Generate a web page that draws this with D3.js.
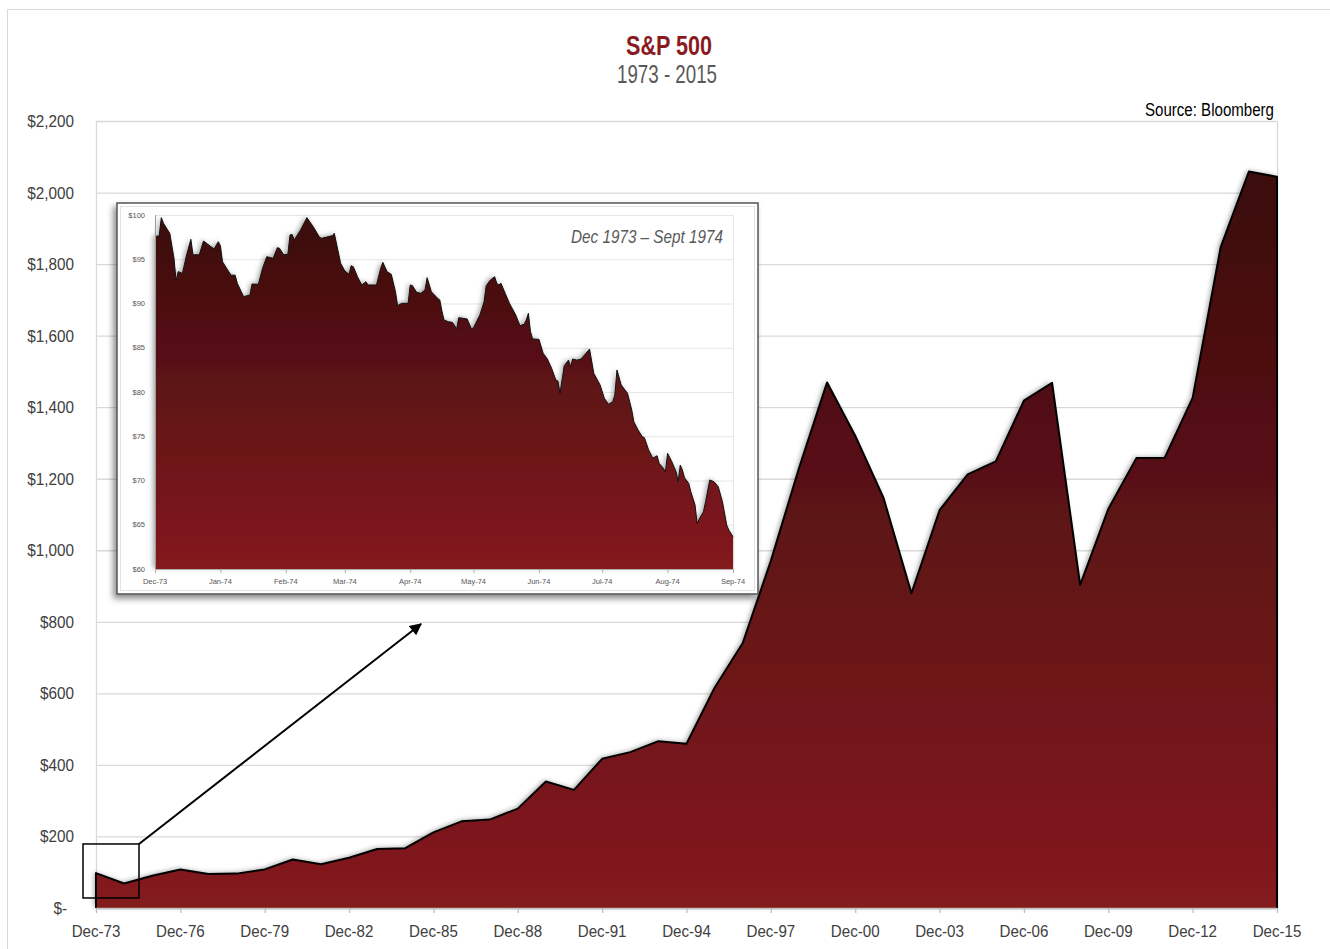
<!DOCTYPE html>
<html>
<head>
<meta charset="utf-8">
<script src="https://cdn.jsdelivr.net/npm/d3@7/dist/d3.min.js"></script>
<style>
  html, body { margin: 0; padding: 0; background: #fff; }
  svg { display: block; font-family: "Liberation Sans", Arial, sans-serif; }
</style>
</head>
<body>
<svg id="chart" width="1330" height="949"></svg>
<script>
// ---------------- DATA ----------------
const years = [1973,1974,1975,1976,1977,1978,1979,1980,1981,1982,1983,1984,1985,1986,1987,1988,1989,1990,1991,1992,1993,1994,1995,1996,1997,1998,1999,2000,2001,2002,2003,2004,2005,2006,2007,2008,2009,2010,2011,2012,2013,2014,2015];
const closes = [97.55,68.56,90.19,107.46,95.10,96.11,107.94,135.76,122.55,140.64,164.93,167.24,211.28,242.17,247.08,277.72,353.40,330.22,417.09,435.71,466.45,459.27,615.93,740.74,970.43,1229.23,1469.25,1320.28,1148.08,879.82,1111.92,1211.92,1248.29,1418.30,1468.36,903.25,1115.10,1257.64,1257.60,1426.19,1848.36,2058.90,2043.94];
const xTickYears = [1973,1976,1979,1982,1985,1988,1991,1994,1997,2000,2003,2006,2009,2012,2015];
const xTickLabels = ["Dec-73","Dec-76","Dec-79","Dec-82","Dec-85","Dec-88","Dec-91","Dec-94","Dec-97","Dec-00","Dec-03","Dec-06","Dec-09","Dec-12","Dec-15"];
const yTickValues = [0,200,400,600,800,1000,1200,1400,1600,1800,2000,2200];
const yTickLabels = ["$-","$200","$400","$600","$800","$1,000","$1,200","$1,400","$1,600","$1,800","$2,000","$2,200"];

const insetDates = ["1973-12-01","1973-12-03","1973-12-04","1973-12-05","1973-12-07","1973-12-08","1973-12-10","1973-12-11","1973-12-12","1973-12-14","1973-12-16","1973-12-18","1973-12-19","1973-12-22","1973-12-24","1973-12-26","1973-12-29","1973-12-31",
"1974-01-01","1974-01-02","1974-01-06","1974-01-08","1974-01-09","1974-01-12","1974-01-15","1974-01-16","1974-01-19","1974-01-21","1974-01-23","1974-01-26","1974-01-28","1974-01-29","1974-01-31",
"1974-02-02","1974-02-03","1974-02-04","1974-02-05","1974-02-08","1974-02-11","1974-02-14","1974-02-17","1974-02-18","1974-02-20","1974-02-23","1974-02-24","1974-02-27",
"1974-03-01","1974-03-03","1974-03-04","1974-03-05","1974-03-07","1974-03-09","1974-03-11","1974-03-12","1974-03-16","1974-03-18","1974-03-19","1974-03-21","1974-03-23","1974-03-25","1974-03-26","1974-03-28","1974-03-31",
"1974-04-01","1974-04-02","1974-04-04","1974-04-06","1974-04-08","1974-04-09","1974-04-11","1974-04-14","1974-04-15","1974-04-16","1974-04-17","1974-04-19","1974-04-21","1974-04-23","1974-04-24","1974-04-28","1974-04-30",
"1974-05-01","1974-05-04","1974-05-06","1974-05-07","1974-05-09","1974-05-11","1974-05-12","1974-05-13","1974-05-14","1974-05-16","1974-05-18","1974-05-21","1974-05-23","1974-05-25","1974-05-26","1974-05-27","1974-05-28","1974-05-29",
"1974-06-01","1974-06-03","1974-06-05","1974-06-07","1974-06-09","1974-06-10","1974-06-11","1974-06-13","1974-06-15","1974-06-16","1974-06-17","1974-06-19","1974-06-21","1974-06-25","1974-06-27","1974-06-30",
"1974-07-02","1974-07-04","1974-07-06","1974-07-07","1974-07-08","1974-07-10","1974-07-13","1974-07-15","1974-07-16","1974-07-18","1974-07-20","1974-07-21","1974-07-23","1974-07-25","1974-07-27","1974-07-28","1974-07-30","1974-07-31",
"1974-08-01","1974-08-03","1974-08-05","1974-08-06","1974-08-07","1974-08-08","1974-08-09","1974-08-11","1974-08-12","1974-08-14","1974-08-15","1974-08-16","1974-08-18","1974-08-19","1974-08-21","1974-08-23","1974-08-25","1974-08-27","1974-08-29","1974-08-30","1974-09-01"];
const insetValues = [97.55,97.66,99.7,99.06,98.3,97.93,95.1,92.54,93.6,93.4,95.5,97.25,95.5,95.5,97.06,96.7,96.16,96.98,
96.53,94.72,93.2,93.2,92.28,90.77,90.96,92.2,92.17,93.98,95.29,95.1,96.3,96.24,95.5,
95.56,97.74,97.8,97.18,98.3,99.7,98.68,97.48,97.37,97.48,97.66,97.93,94.54,
93.67,93.3,94.27,94.16,93.03,92.09,92.46,92.09,92.09,93.98,94.65,93.6,93.3,91.33,89.75,90.02,90.02,
92.09,92.02,91.27,91.15,91.53,92.92,91.33,90.58,90.4,89.15,88.14,87.94,87.87,87.12,88.4,88.25,87.12,
87.27,88.7,90.2,92.01,92.66,93.03,92.28,92.09,92.28,91.15,90.02,88.7,87.5,87.65,88.14,88.89,86.82,85.99,
85.95,84.37,83.73,82.68,81.36,81.24,79.85,82.97,83.6,82.86,83.73,83.6,83.73,84.86,82.11,80.79,
79.29,78.61,78.9,79.66,82.49,80.79,79.85,77.97,76.64,75.7,74.95,74.84,73.45,72.51,72.8,71.94,71.38,70.99,
73.07,72.13,70.99,69.86,71.75,71.19,70.32,69.68,68.74,67.23,65.16,65.65,66.47,67.6,70.06,69.86,69.3,67.6,64.97,64.41,63.65];
const insetMonthLabels = ["Dec-73","Jan-74","Feb-74","Mar-74","Apr-74","May-74","Jun-74","Jul-74","Aug-74","Sep-74"];
const insetYTicks = [60,65,70,75,80,85,90,95,100];
const insetYLabels = ["$60","$65","$70","$75","$80","$85","$90","$95","$100"];

// ---------------- DRAW ----------------
const svg = d3.select("#chart");
const defs = svg.append("defs");

function grad(id) {
  const g = defs.append("linearGradient").attr("id", id).attr("x1", 0).attr("y1", 0).attr("x2", 0).attr("y2", 1);
  g.append("stop").attr("offset", "0%").attr("stop-color", "#3a0b0c");
  g.append("stop").attr("offset", "100%").attr("stop-color", "#841a1f");
}
grad("mainGrad");
grad("insetGrad");

const glow = defs.append("filter").attr("id", "glow").attr("x", "-10%").attr("y", "-10%").attr("width", "120%").attr("height", "120%");
glow.append("feDropShadow").attr("dx", -2).attr("dy", -1).attr("stdDeviation", 2.5).attr("flood-color", "#000").attr("flood-opacity", 0.35);

const boxShadow = defs.append("filter").attr("id", "boxShadow").attr("x", "-5%").attr("y", "-5%").attr("width", "110%").attr("height", "115%");
boxShadow.append("feDropShadow").attr("dx", -3).attr("dy", 4).attr("stdDeviation", 3).attr("flood-color", "#000").attr("flood-opacity", 0.45);

const marker = defs.append("marker").attr("id", "arrow").attr("viewBox", "0 0 10 10")
  .attr("refX", 9).attr("refY", 5).attr("markerWidth", 7).attr("markerHeight", 6)
  .attr("markerUnits", "strokeWidth").attr("orient", "auto");
marker.append("path").attr("d", "M0,0 L10,5 L0,10 z").attr("fill", "#000");

// outer frame
svg.append("rect").attr("x", 7.5).attr("y", 9.5).attr("width", 1340).attr("height", 960)
  .attr("fill", "none").attr("stroke", "#d9d9d9");

// titles
svg.append("text").attr("x", 626).attr("y", 55).attr("font-size", 27).attr("font-weight", "bold")
  .attr("fill", "#8b1a1f").attr("textLength", 86).attr("lengthAdjust", "spacingAndGlyphs").text("S&P 500");
svg.append("text").attr("x", 617).attr("y", 83).attr("font-size", 25)
  .attr("fill", "#595959").attr("textLength", 100).attr("lengthAdjust", "spacingAndGlyphs").text("1973 - 2015");
svg.append("text").attr("x", 1145).attr("y", 116).attr("font-size", 18)
  .attr("fill", "#000").attr("textLength", 129).attr("lengthAdjust", "spacingAndGlyphs").text("Source: Bloomberg");

// main scales
const L = 96, R = 1277, T = 121, B = 908;
const x = d3.scaleLinear().domain([years[0], years[years.length - 1]]).range([L, R]);
const y = d3.scaleLinear().domain([0, 2200]).range([B, T]);

const main = svg.append("g");
// gridlines
main.selectAll("line.grid").data(yTickValues).join("line")
  .attr("x1", L).attr("x2", R).attr("y1", d => y(d) + 0.5).attr("y2", d => y(d) + 0.5)
  .attr("stroke", "#d9d9d9").attr("stroke-width", 1.3);
main.append("line").attr("x1", L + 0.5).attr("x2", L + 0.5).attr("y1", T).attr("y2", B).attr("stroke", "#d9d9d9").attr("stroke-width", 1.3);
main.append("line").attr("x1", R + 0.5).attr("x2", R + 0.5).attr("y1", T).attr("y2", B).attr("stroke", "#d9d9d9").attr("stroke-width", 1.3);

// area
const mainData = years.map((yr, i) => ({ yr, v: closes[i] }));
const area = d3.area().x(d => x(d.yr)).y0(y(0)).y1(d => y(d.v));
main.append("path").datum(mainData).attr("d", area).attr("fill", "url(#mainGrad)").attr("filter", "url(#glow)");
const outline = [{ yr: years[0], v: 0 }, ...mainData, { yr: years[years.length - 1], v: 0 }];
main.append("path").datum(outline).attr("d", d3.line().x(d => x(d.yr)).y(d => y(d.v)))
  .attr("fill", "none").attr("stroke", "#000").attr("stroke-width", 2).attr("stroke-linejoin", "round");

// x axis line and ticks
main.append("line").attr("x1", L).attr("x2", R).attr("y1", B + 0.5).attr("y2", B + 0.5).attr("stroke", "#bfbfbf").attr("stroke-width", 1.3);
main.selectAll("line.xt").data(xTickYears).join("line")
  .attr("x1", d => x(d) + 0.5).attr("x2", d => x(d) + 0.5).attr("y1", B).attr("y2", B + 5)
  .attr("stroke", "#bfbfbf").attr("stroke-width", 1.3);

main.selectAll("text.xl").data(xTickYears).join("text")
  .attr("transform", d => `translate(${x(d)},937) scale(0.89,1)`)
  .attr("text-anchor", "middle").attr("font-size", 17).attr("fill", "#404040")
  .text((d, i) => xTickLabels[i]);
main.selectAll("text.yl").data(yTickValues).join("text")
  .attr("transform", (d, i) => `translate(${i === 0 ? 67 : 74},${y(d) + 6}) scale(0.9,1)`)
  .attr("text-anchor", "end").attr("font-size", 17).attr("fill", "#404040")
  .text((d, i) => yTickLabels[i]);

// zoom box & arrow
svg.append("rect").attr("x", x(1973) - 13).attr("y", y(179)).attr("width", 56).attr("height", y(28) - y(179))
  .attr("fill", "none").attr("stroke", "#000").attr("stroke-width", 1.5);
svg.append("line").attr("x1", x(1973) + 43).attr("y1", y(179)).attr("x2", 421).attr("y2", 624)
  .attr("stroke", "#000").attr("stroke-width", 2).attr("marker-end", "url(#arrow)");

// ---------------- INSET ----------------
const inset = svg.append("g");
inset.append("rect").attr("x", 117).attr("y", 203).attr("width", 641).attr("height", 391)
  .attr("fill", "#fff").attr("stroke", "#555").attr("stroke-width", 1.5).attr("filter", "url(#boxShadow)");
inset.append("rect").attr("x", 120.5).attr("y", 206.5).attr("width", 634).attr("height", 384)
  .attr("fill", "none").attr("stroke", "#e3e3e3");

const parse = d3.timeParse("%Y-%m-%d");
const iDates = insetDates.map(parse);
const xi = d3.scaleTime().domain([new Date(1973, 11, 1), new Date(1974, 8, 1)]).range([155, 733]);
const yi = d3.scaleLinear().domain([60, 100]).range([569, 215]);

inset.selectAll("line.ig").data(insetYTicks).join("line")
  .attr("x1", 155).attr("x2", 733).attr("y1", d => yi(d) + 0.5).attr("y2", d => yi(d) + 0.5)
  .attr("stroke", "#e6e6e6");
inset.append("line").attr("x1", 733.5).attr("x2", 733.5).attr("y1", 215).attr("y2", 569).attr("stroke", "#e6e6e6");

const insetData = iDates.map((d, i) => ({ d, v: insetValues[i] }));
inset.append("path").datum(insetData)
  .attr("d", d3.area().x(d => xi(d.d)).y0(yi(60)).y1(d => yi(d.v)))
  .attr("fill", "url(#insetGrad)").attr("filter", "url(#glow)");
inset.append("path").datum(insetData)
  .attr("d", d3.line().x(d => xi(d.d)).y(d => yi(d.v)))
  .attr("fill", "none").attr("stroke", "#111").attr("stroke-width", 1).attr("stroke-linejoin", "round");

inset.append("line").attr("x1", 155).attr("x2", 733).attr("y1", 569.5).attr("y2", 569.5).attr("stroke", "#b0b0b0");
inset.append("line").attr("x1", 155.5).attr("x2", 155.5).attr("y1", 215).attr("y2", 569).attr("stroke", "#999");

const monthTicks = xi.ticks(d3.timeMonth.every(1));
inset.selectAll("line.ixt").data(monthTicks).join("line")
  .attr("x1", d => xi(d) + 0.5).attr("x2", d => xi(d) + 0.5).attr("y1", 569).attr("y2", 573)
  .attr("stroke", "#b0b0b0");
inset.selectAll("text.ixl").data(monthTicks).join("text")
  .attr("x", d => xi(d)).attr("y", 584).attr("text-anchor", "middle")
  .attr("font-size", 7.5).attr("fill", "#555")
  .text((d, i) => insetMonthLabels[i]);
inset.selectAll("text.iyl").data(insetYTicks).join("text")
  .attr("x", 145).attr("y", d => yi(d) + 2.7).attr("text-anchor", "end")
  .attr("font-size", 7.5).attr("fill", "#555")
  .text((d, i) => insetYLabels[i]);

inset.append("text").attr("x", 571).attr("y", 243).attr("font-size", 18).attr("font-style", "italic")
  .attr("fill", "#595959").attr("textLength", 152).attr("lengthAdjust", "spacingAndGlyphs")
  .text("Dec 1973 \u2013 Sept 1974");
</script>
</body>
</html>
